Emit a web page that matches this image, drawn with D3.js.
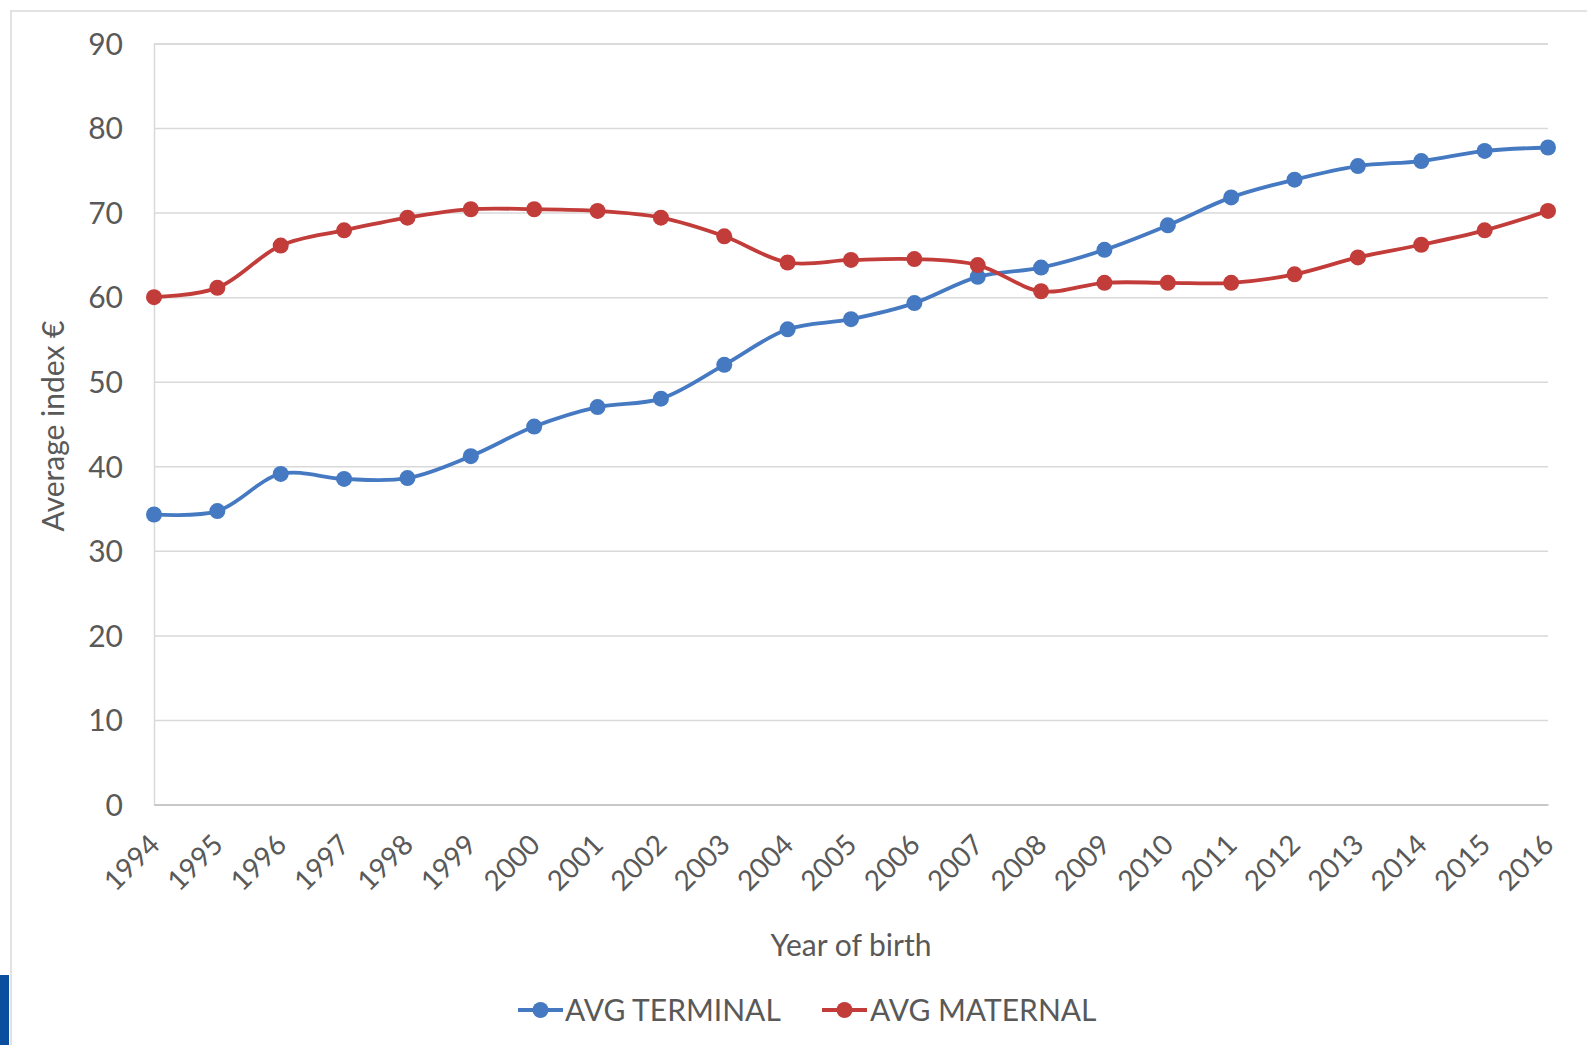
<!DOCTYPE html>
<html>
<head>
<meta charset="utf-8">
<script src="https://cdn.jsdelivr.net/npm/d3@7"></script>
<style>
  html, body { margin: 0; padding: 0; background: #fff; }
  svg { display: block; font-family: Lato, "Open Sans", sans-serif; }
</style>
</head>
<body>
<svg id="chart" width="1587" height="1045"></svg>
<script>
const years = [1994,1995,1996,1997,1998,1999,2000,2001,2002,2003,2004,2005,2006,2007,2008,2009,2010,2011,2012,2013,2014,2015,2016];
const avgTerminal = [34.3,34.7,39.1,38.5,38.6,41.2,44.7,47.0,48.0,52.0,56.2,57.4,59.3,62.4,63.5,65.6,68.5,71.8,73.9,75.5,76.1,77.3,77.7];
const avgMaternal = [60.0,61.1,66.1,67.9,69.4,70.4,70.4,70.2,69.4,67.2,64.1,64.4,64.5,63.8,60.7,61.7,61.7,61.7,62.7,64.7,66.2,67.9,70.2];
const yTicks = [0,10,20,30,40,50,60,70,80,90];
const seriesNames = ["AVG TERMINAL", "AVG MATERNAL"];
const seriesColors = ["#4579c1", "#c23c3a"];
const xTitle = "Year of birth";
const yTitle = "Average index €";

const svg = d3.select("#chart");
const W = 1587, H = 1045;
const plot = { left: 154, right: 1548, top: 43.5, bottom: 804.5 };
const textColor = "#595959";

// slide frame
svg.append("rect").attr("x", 11).attr("y", 11).attr("width", W).attr("height", H)
  .attr("fill", "#fff").attr("stroke", "#d9d9d9").attr("stroke-width", 1.5);
svg.append("rect").attr("x", 0).attr("y", 975).attr("width", 9).attr("height", 70)
  .attr("fill", "#0a4e9e");

const x = d3.scalePoint().domain(years).range([plot.left, plot.right]);
const y = d3.scaleLinear().domain([0, 90]).range([plot.bottom, plot.top]);

// gridlines
const yAxis = d3.axisLeft(y).tickValues(yTicks).tickSize(-(plot.right - plot.left)).tickPadding(31);
const gy = svg.append("g").attr("transform", `translate(${plot.left},0)`).call(yAxis);
gy.select(".domain").attr("stroke", "#d9d9d9").attr("stroke-width", 1.5);
gy.selectAll(".tick line").attr("stroke", "#d9d9d9").attr("stroke-width", 1.5);
gy.selectAll(".tick text").attr("fill", textColor).attr("font-size", 30)
  .attr("font-family", "Lato, 'Open Sans', sans-serif").attr("dy", "0.36em");

// x axis
const xAxis = d3.axisBottom(x).tickSize(0).tickPadding(0);
const gx = svg.append("g").attr("transform", `translate(0,${plot.bottom})`).call(xAxis);
gx.select(".domain").attr("stroke", "#c8c8c8").attr("stroke-width", 2);
gx.selectAll(".tick text")
  .attr("fill", textColor).attr("font-size", 28)
  .attr("font-family", "Lato, 'Open Sans', sans-serif")
  .attr("text-anchor", "end")
  .attr("y", 0).attr("dy", 0)
  .attr("transform", "translate(7,42) rotate(-45)");

// axis titles
svg.append("text").attr("x", 851).attr("y", 956).attr("text-anchor", "middle")
  .attr("fill", textColor).attr("font-size", 30).text(xTitle);
svg.append("text").attr("transform", "translate(64,426) rotate(-90)").attr("text-anchor", "middle")
  .attr("fill", textColor).attr("font-size", 30).text(yTitle);

// series
const seriesData = [avgTerminal, avgMaternal];
const line = d3.line().x((d, i) => x(years[i])).y(d => y(d)).curve(d3.curveCatmullRom.alpha(0.5));
seriesData.forEach((vals, si) => {
  const g = svg.append("g");
  g.append("path").datum(vals).attr("d", line).attr("fill", "none")
    .attr("stroke", seriesColors[si]).attr("stroke-width", 3.8);
  g.selectAll("circle").data(vals).join("circle")
    .attr("cx", (d, i) => x(years[i])).attr("cy", d => y(d)).attr("r", 8)
    .attr("fill", seriesColors[si]);
});

// legend
const legendItems = [{ x0: 518, tx: 565 }, { x0: 822, tx: 870 }];
legendItems.forEach((it, i) => {
  const g = svg.append("g");
  g.append("line").attr("x1", it.x0).attr("x2", it.x0 + 45).attr("y1", 1010).attr("y2", 1010)
    .attr("stroke", seriesColors[i]).attr("stroke-width", 3.8);
  g.append("circle").attr("cx", it.x0 + 22.5).attr("cy", 1010).attr("r", 8).attr("fill", seriesColors[i]);
  g.append("text").attr("x", it.tx).attr("y", 1021).attr("fill", textColor)
    .attr("font-size", 30).text(seriesNames[i]);
});
</script>
</body>
</html>
